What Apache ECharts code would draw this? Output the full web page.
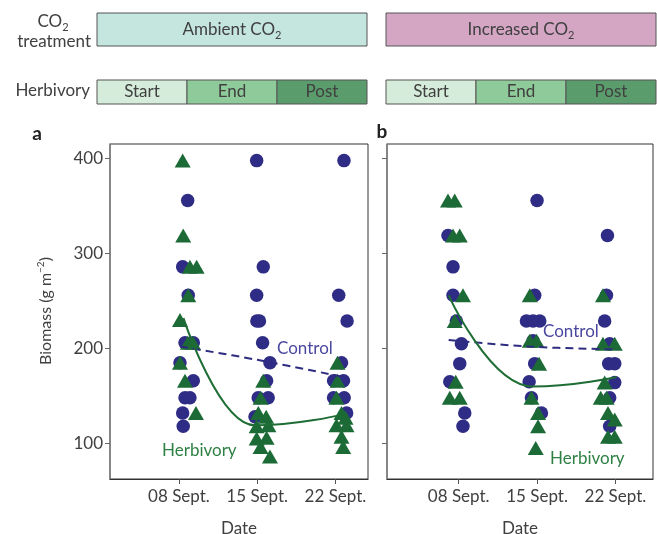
<!DOCTYPE html>
<html>
<head>
<meta charset="utf-8">
<script src="https://cdn.jsdelivr.net/npm/echarts@6/dist/echarts.min.js"></script>
<style>
  html, body { margin: 0; padding: 0; background: #fff; }
  #chart { width: 657px; height: 534px; }
</style>
</head>
<body>
<div id="chart"></div>
<script>
// Axis ticks and labels
const dateTicks = [8, 15, 22];
const dateLabels = ['08 Sept.', '15 Sept.', '22 Sept.'];
const biomassTicks = [100, 200, 300, 400];

// Treatment header labels
const co2Treatments = ['Ambient CO{sub|2}', 'Increased CO{sub|2}'];
const herbivoryPhases = ['Start', 'End', 'Post'];

// Panel a: ambient CO2, [day of September, biomass g m-2]
const ambientControl = [
  [8.78, 356], [8.33, 286], [8.83, 256], [8.54, 206], [9.28, 206], [8.09, 185],
  [9.28, 166], [8.54, 148], [8.98, 148], [8.33, 132], [8.38, 118],
  [14.95, 398], [15.54, 286], [14.95, 256], [14.97, 229], [15.2, 229], [15.48, 206],
  [16.14, 185], [15.84, 166], [15.09, 148], [15.98, 148], [14.8, 128],
  [22.76, 398], [22.29, 256], [23.04, 229], [22.54, 185], [21.83, 166], [22.72, 166],
  [21.83, 148], [22.78, 148], [23.0, 132]
];
const ambientHerbivory = [
  [8.33, 398], [8.38, 319], [8.98, 286], [9.58, 286], [8.83, 256], [8.09, 230],
  [8.8, 206], [9.25, 206], [8.09, 185], [8.54, 166], [9.52, 132],
  [15.54, 166], [15.3, 148], [15.1, 132], [15.8, 128], [16.0, 119], [14.95, 118],
  [15.84, 106], [14.95, 105], [15.3, 96], [16.14, 86],
  [22.18, 185], [22.18, 166], [22.09, 148], [22.54, 132], [22.9, 127], [22.09, 119],
  [22.99, 119], [22.54, 107], [22.69, 96]
];
const ambientControlFit = [[8.1, 202], [15, 188], [23.1, 169]];
const ambientHerbivoryFit = [[8.4, 232], [14.8, 119], [22.5, 130]];

// Panel b: increased CO2
const increasedControl = [
  [7.04, 319], [7.49, 286], [7.49, 256], [7.79, 229], [8.24, 205], [8.09, 184],
  [7.2, 165], [8.54, 132], [8.38, 118],
  [15.0, 356], [14.79, 256], [14.05, 229], [14.64, 229], [15.24, 229], [14.64, 208],
  [14.79, 184], [14.29, 165], [14.5, 148], [15.39, 132],
  [21.29, 319], [21.2, 256], [21.04, 229], [21.49, 205], [21.4, 184], [21.94, 184],
  [21.94, 164], [21.49, 148], [21.49, 118]
];
const increasedHerbivory = [
  [7.04, 356], [7.64, 356], [7.49, 319], [8.09, 319], [8.38, 256], [7.64, 229],
  [7.73, 165], [7.2, 148], [8.09, 148],
  [14.35, 256], [14.35, 208], [14.95, 208], [15.18, 184], [14.5, 148], [15.09, 132],
  [15.09, 118], [14.88, 95],
  [20.89, 256], [20.89, 205], [21.94, 205], [21.04, 164], [20.69, 148], [21.22, 148],
  [21.34, 132], [21.94, 125], [21.34, 107], [21.94, 107]
];
const increasedControlFit = [[7.1, 209], [14.3, 202], [22.2, 199]];
const increasedHerbivoryFit = [[7.1, 256], [14.6, 160], [22.1, 170]];

const FONT = 'Lato, "Open Sans", sans-serif';
const TEXT = '#404040';
const NAVY = '#2f2c85';
const GREEN = '#1c6b37';
const subRich = {
  sub: { fontSize: 11, lineHeight: 12, verticalAlign: 'bottom', fontFamily: FONT, fill: TEXT, color: TEXT }
};

function xAxisFor(gridIndex, min, max) {
  return {
    type: 'value', gridIndex, min, max,
    name: 'Date', nameLocation: 'middle', nameGap: 41,
    nameTextStyle: { fontFamily: FONT, fontSize: 17, color: TEXT },
    splitLine: { show: false },
    axisLine: { onZero: false, lineStyle: { color: '#333', width: 1.2 } },
    axisTick: { customValues: dateTicks, length: 5, lineStyle: { color: '#555' } },
    axisLabel: {
      customValues: dateTicks, margin: 9,
      fontFamily: FONT, fontSize: 17, color: TEXT,
      formatter: v => dateLabels[dateTicks.indexOf(v)] || ''
    }
  };
}
function yAxisFor(gridIndex, showLabels) {
  return {
    type: 'value', gridIndex, min: 62.4, max: 415.5,
    splitLine: { show: false },
    axisLine: { onZero: false, lineStyle: { color: '#808080', width: 1.5 } },
    axisTick: { customValues: biomassTicks, length: 5, lineStyle: { color: '#666' } },
    axisLabel: {
      show: showLabels, customValues: biomassTicks, margin: 7,
      fontFamily: FONT, fontSize: 17, color: TEXT
    }
  };
}
function panelSeries(idx, control, herbivory, controlFit, herbivoryFit) {
  return [
    { type: 'scatter', xAxisIndex: idx, yAxisIndex: idx, data: control, symbol: 'circle', symbolSize: 13.5,
      itemStyle: { color: NAVY, opacity: 1 }, z: 2 },
    { type: 'scatter', xAxisIndex: idx, yAxisIndex: idx, data: herbivory, symbol: 'triangle', symbolSize: [16, 14],
      itemStyle: { color: GREEN, opacity: 1 }, z: 3 },
    { type: 'line', xAxisIndex: idx, yAxisIndex: idx, data: controlFit, smooth: 0.4, showSymbol: false,
      lineStyle: { color: '#2e2c80', width: 2, type: [8, 5] }, z: 4 },
    { type: 'line', xAxisIndex: idx, yAxisIndex: idx, data: herbivoryFit, smooth: 0.5, smoothMonotone: 'x',
      showSymbol: false, lineStyle: { color: '#1e6d35', width: 2 }, z: 4 }
  ];
}

// Header boxes for CO2 treatment and herbivory phase
const headerLefts = [97, 386];
const headerWidth = 270;
const phaseFills = ['#d6ecda', '#8fcb9a', '#5a9c6c'];
const co2Fills = ['#c5e6df', '#d4a6c4'];
const graphics = [];
headerLefts.forEach((left, p) => {
  graphics.push({ type: 'rect', shape: { x: left, y: 13, width: headerWidth, height: 33 },
    style: { fill: co2Fills[p], stroke: '#555', lineWidth: 1 } });
  graphics.push({ type: 'text', x: left + headerWidth / 2, y: 30,
    style: { text: co2Treatments[p], align: 'center', verticalAlign: 'middle',
      font: '17px ' + FONT, fill: TEXT, lineHeight: 22, rich: subRich } });
  herbivoryPhases.forEach((ph, i) => {
    const w = headerWidth / 3;
    graphics.push({ type: 'rect', shape: { x: left + i * w, y: 80, width: w, height: 24 },
      style: { fill: phaseFills[i], stroke: '#555', lineWidth: 1 } });
    graphics.push({ type: 'text', x: left + i * w + w / 2, y: 92,
      style: { text: ph, align: 'center', verticalAlign: 'middle', font: '17px ' + FONT, fill: TEXT } });
  });
});
graphics.push(
  { type: 'text', x: 53, y: 22, style: { text: 'CO{sub|2}', align: 'center', verticalAlign: 'middle',
      font: '17px ' + FONT, fill: TEXT, lineHeight: 22, rich: subRich } },
  { type: 'text', x: 91, y: 42, style: { text: 'treatment', align: 'right', verticalAlign: 'middle',
      font: '17px ' + FONT, fill: TEXT } },
  { type: 'text', x: 90, y: 91, style: { text: 'Herbivory', align: 'right', verticalAlign: 'middle',
      font: '17px ' + FONT, fill: TEXT } },
  { type: 'text', x: 37, y: 134, style: { text: 'a', align: 'center', verticalAlign: 'middle',
      font: 'bold 19px ' + FONT, fill: '#222' } },
  { type: 'text', x: 382, y: 132, style: { text: 'b', align: 'center', verticalAlign: 'middle',
      font: 'bold 19px ' + FONT, fill: '#222' } },
  { type: 'text', x: 46, y: 311, rotation: Math.PI / 2,
    style: { text: 'Biomass (g m{sup|−2})', align: 'center', verticalAlign: 'middle',
      font: '16px ' + FONT, fill: TEXT, lineHeight: 20,
      rich: { sup: { fontSize: 10, lineHeight: 10, verticalAlign: 'top', fill: TEXT, fontFamily: FONT } } } },
  // Fit line labels
  { type: 'text', x: 277, y: 349, z: 10, style: { text: 'Control', align: 'left', verticalAlign: 'middle',
      font: '17px ' + FONT, fill: '#4b48a0' } },
  { type: 'text', x: 162, y: 451, z: 10, style: { text: 'Herbivory', align: 'left', verticalAlign: 'middle',
      font: '17px ' + FONT, fill: '#2e8044' } },
  { type: 'text', x: 543, y: 332, z: 10, style: { text: 'Control', align: 'left', verticalAlign: 'middle',
      font: '17px ' + FONT, fill: '#4b48a0' } },
  { type: 'text', x: 550, y: 459, z: 10, style: { text: 'Herbivory', align: 'left', verticalAlign: 'middle',
      font: '17px ' + FONT, fill: '#2e8044' } }
);

const chart = echarts.init(document.getElementById('chart'), null, { renderer: 'canvas' });
chart.setOption({
  backgroundColor: '#fff',
  animation: false,
  grid: [
    { left: 110, top: 144, width: 258, height: 335, outerBoundsMode: 'none', containLabel: false,
      show: true, borderColor: '#333', borderWidth: 1 },
    { left: 387, top: 144, width: 266, height: 335, outerBoundsMode: 'none', containLabel: false,
      show: true, borderColor: '#333', borderWidth: 1 }
  ],
  xAxis: [xAxisFor(0, 1.83, 24.91), xAxisFor(1, 1.59, 25.36)],
  yAxis: [yAxisFor(0, true), yAxisFor(1, false)],
  series: [
    ...panelSeries(0, ambientControl, ambientHerbivory, ambientControlFit, ambientHerbivoryFit),
    ...panelSeries(1, increasedControl, increasedHerbivory, increasedControlFit, increasedHerbivoryFit)
  ],
  graphic: graphics
});
</script>
</body>
</html>
